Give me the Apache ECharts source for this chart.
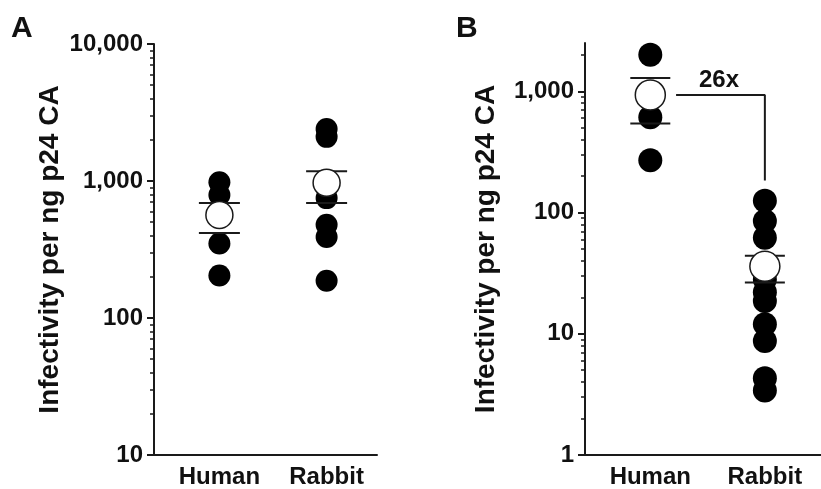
<!DOCTYPE html>
<html>
<head>
<meta charset="utf-8">
<script src="https://cdn.jsdelivr.net/npm/echarts@6/dist/echarts.min.js"></script>
<style>
  html, body { margin: 0; padding: 0; background: #fff; }
  #main { width: 821px; height: 489px; }
</style>
</head>
<body>
<div id="main"></div>
<script>
// x position of each group on the value x axis: Human = 1, Rabbit = 2
var categories = ['Human', 'Rabbit'];

// Panel A - dots
var humanA = [980, 790, 350, 204];
var rabbitA = [2400, 2100, 750, 480, 390, 187];
var meanA = [565, 970];
var semLowA = [418, 690];
var semHighA = [690, 1180];

// Panel B
var humanB = [2000, 610, 270];
var rabbitB = [125, 85, 62, 28, 22, 18.6, 12, 8.7, 4.3, 3.4];
var meanB = [932, 36];
var semLowB = [543, 26.5];
var semHighB = [1285, 44];

// fold change bracket in B
var foldText = '26x';
var foldLine = [[1.225, 932], [2, 932], [2, 184]];
var foldLabelPos = [[1.6, 932]];

// tick labels
var ticksA = [10, 100, 1000, 10000];
var ticksB = [1, 10, 100, 1000];

var textColor = '#111';
var lineColor = '#1a1a1a';
var font = 'Liberation Sans, Arial, sans-serif';

// minor ticks 2..9 inside each decade
function minorTicks(majors, max) {
  var out = [];
  majors.forEach(function (m) {
    for (var k = 2; k <= 9; k++) {
      if (m * k <= max) out.push(m * k);
    }
  });
  return out;
}

function pts(x, arr) {
  return arr.map(function (v) { return [x, v]; });
}
function pairs(arr) {
  return arr.map(function (v, i) { return [i + 1, v]; });
}

var myChart = echarts.init(document.getElementById('main'));

function majorAxis(grid, min, max, ticks, nameGap) {
  return {
    type: 'log', gridIndex: grid, min: min, max: max, position: 'left',
    name: 'Infectivity per ng p24 CA', nameLocation: 'middle', nameGap: nameGap,
    nameTextStyle: { color: textColor, fontSize: 28, fontWeight: 'bold', fontFamily: font },
    axisLine: { show: true, lineStyle: { color: lineColor, width: 2 } },
    axisTick: { show: true, length: 7, customValues: ticks, lineStyle: { color: lineColor, width: 2 } },
    axisLabel: {
      customValues: ticks, margin: 11, color: textColor, fontSize: 24, fontWeight: 'bold', fontFamily: font,
      formatter: function (v) { return Number(v).toLocaleString('en-US'); }
    },
    splitLine: { show: false }
  };
}
function minorAxis(grid, min, max, ticks) {
  return {
    type: 'log', gridIndex: grid, min: min, max: max, position: 'left', offset: 0,
    axisLine: { show: false },
    axisTick: { show: true, length: 4, customValues: minorTicks(ticks, max), lineStyle: { color: lineColor, width: 1.5 } },
    axisLabel: { show: false },
    splitLine: { show: false }
  };
}
function xAxis(grid, min, max) {
  return {
    type: 'value', gridIndex: grid, min: min, max: max,
    axisLine: { show: true, lineStyle: { color: lineColor, width: 2 } },
    axisTick: { show: false },
    splitLine: { show: false },
    axisLabel: {
      customValues: [1, 2], margin: 10, color: textColor, fontSize: 24, fontWeight: 'bold', fontFamily: font,
      formatter: function (v) { return categories[Math.round(v) - 1] || ''; }
    }
  };
}

function dots(xi, yi, data, size) {
  return { type: 'scatter', xAxisIndex: xi, yAxisIndex: yi, data: data, symbolSize: size,
    itemStyle: { color: '#000', opacity: 1 }, z: 2, silent: true };
}
function bars(xi, yi, data, w) {
  return { type: 'scatter', xAxisIndex: xi, yAxisIndex: yi, data: data, symbol: 'rect', symbolSize: [w, 2],
    itemStyle: { color: lineColor, opacity: 1 }, z: 3, silent: true };
}
function means(xi, yi, data, size) {
  return { type: 'scatter', xAxisIndex: xi, yAxisIndex: yi, data: data, symbolSize: size,
    itemStyle: { color: '#fff', borderColor: lineColor, borderWidth: 1.5, opacity: 1 }, z: 4, silent: true };
}

var option = {
  animation: false,
  backgroundColor: '#fff',
  title: [
    { text: 'A', left: 6, top: 9, textStyle: { color: textColor, fontSize: 30, fontWeight: 'bold', fontFamily: font } },
    { text: 'B', left: 451, top: 9, textStyle: { color: textColor, fontSize: 30, fontWeight: 'bold', fontFamily: font } }
  ],
  grid: [
    { left: 154, top: 44, width: 223, height: 413 },
    { left: 585, top: 43, width: 236, height: 415 }
  ],
  xAxis: [xAxis(0, 0.39, 2.47), xAxis(1, 0.43, 2.49)],
  yAxis: [
    majorAxis(0, 10, 10000, ticksA, 90),
    minorAxis(0, 10, 10000, ticksA),
    majorAxis(1, 1, 2500, ticksB, 85),
    minorAxis(1, 1, 2500, ticksB)
  ],
  series: [
    dots(0, 0, pts(1, humanA).concat(pts(2, rabbitA)), 22),
    bars(0, 0, pairs(semLowA).concat(pairs(semHighA)), 41),
    means(0, 0, pairs(meanA), 27),

    dots(1, 2, pts(1, humanB).concat(pts(2, rabbitB)), 24),
    bars(1, 2, pairs(semLowB).concat(pairs(semHighB)), 40),
    means(1, 2, pairs(meanB), 30),
    {
      type: 'line', xAxisIndex: 1, yAxisIndex: 2, data: foldLine, showSymbol: false, symbol: 'none',
      lineStyle: { color: lineColor, width: 2 }, z: 3, silent: true
    },
    {
      type: 'scatter', xAxisIndex: 1, yAxisIndex: 2, data: foldLabelPos, symbolSize: 0, silent: true,
      itemStyle: { opacity: 1 },
      label: { show: true, position: 'top', distance: 3, formatter: foldText,
        color: textColor, fontSize: 24, fontWeight: 'bold', fontFamily: font }
    }
  ]
};

myChart.setOption(option);
</script>
</body>
</html>
